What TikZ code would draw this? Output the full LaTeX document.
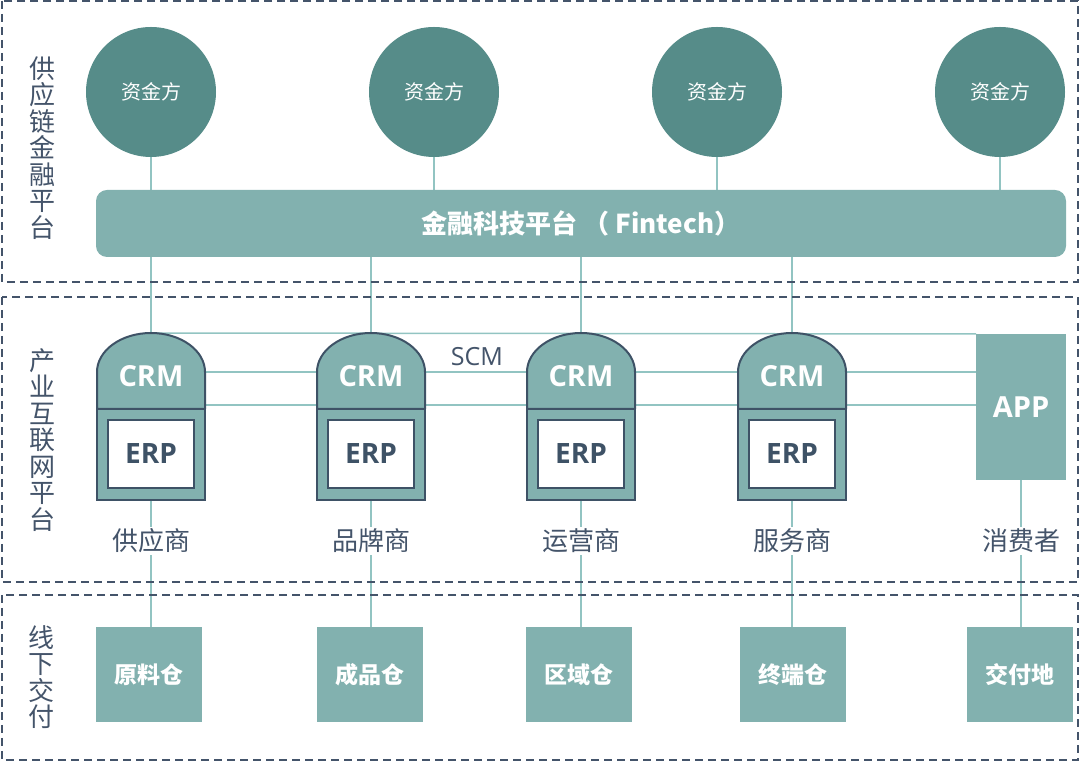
\documentclass[tikz,border=0pt]{standalone}
\usepackage{fontspec}
\usepackage{tikz}
\usetikzlibrary{positioning,backgrounds,calc}
\newfontfamily\cjk{Noto Sans CJK SC}
\newfontfamily\latin{Open Sans}
\definecolor{fundfill}{HTML}{568C89}
\definecolor{tealfill}{HTML}{82B1AF}
\definecolor{outline}{HTML}{3E5266}
\definecolor{linkline}{HTML}{92C4C2}
\definecolor{inktext}{HTML}{44546A}
\tikzset{
  frame/.style={draw=inktext, line width=2pt, dash pattern=on 8pt off 5pt},
  fundcircle/.style={circle, fill=fundfill, minimum size=130pt, inner sep=0pt,
    text=white, font=\cjk\fontsize{20}{24}\selectfont},
  platebar/.style={rounded corners=11pt, fill=tealfill, minimum width=970pt,
    minimum height=67pt, text=white, font=\cjk\bfseries\fontsize{26}{30}\selectfont},
  basebox/.style={draw=outline, line width=2pt, fill=tealfill, minimum width=108pt,
    minimum height=91pt, inner sep=0pt, outer sep=0pt},
  towerline/.style={draw=outline, line width=2pt, line join=round, fill=tealfill},
  erpbox/.style={draw=outline, line width=2pt, fill=white, minimum width=86pt,
    minimum height=68pt, inner sep=0pt, text=outline, font=\latin\bfseries\fontsize{28}{32}\selectfont},
  crmtext/.style={text=white, inner sep=0pt, font=\latin\bfseries\fontsize{29}{32}\selectfont},
  appbox/.style={fill=tealfill, minimum width=90pt, minimum height=146pt, inner sep=0pt,
    outer sep=0pt, text=white, font=\latin\bfseries\fontsize{29}{32}\selectfont},
  depotbox/.style={fill=tealfill, minimum width=106pt, minimum height=95pt, inner sep=0pt,
    outer sep=0pt, text=white, font=\cjk\bfseries\fontsize{23}{26}\selectfont},
  rowlabel/.style={fill=white, inner sep=2pt, text=inktext, font=\cjk\fontsize{26}{30}\selectfont},
  sidelabel/.style={align=center, inner sep=0pt, text=inktext, font=\cjk\fontsize{26}{26.5}\selectfont},
  link/.style={draw=linkline, line width=1.5pt}
}

\begin{document}
\begin{tikzpicture}[x=1pt,y=1pt]
  \useasboundingbox (0,0) rectangle (1080,763);

  % three platform frames
  \draw[frame] (2,762) rectangle (1078,481);
  \draw[frame] (2,466) rectangle (1078,181);
  \draw[frame] (2,168) rectangle (1078,3);
  \node[sidelabel] (side1) at (43,615) {供\\应\\链\\金\\融\\平\\台};
  \node[sidelabel] (side2) at (43,323) {产\\业\\互\\联\\网\\平\\台};
  \node[sidelabel] (side3) at (41,86) {线\\下\\交\\付};

  % fund providers and fintech platform
  \foreach \i/\x in {1/151,2/434,3/717,4/1000}
    \node[fundcircle] (fund\i) at (\x,671) {资金方};
  \node[platebar] (fintech) at (581,539.5) {金融科技平台 （ Fintech）};

  % CRM/ERP towers
  \foreach \i/\x/\role in {1/151/供应商,2/371/品牌商,3/581/运营商,4/792/服务商} {
    \node[basebox] (base\i) at (\x,308.5) {};
    \node[erpbox] (erp\i) at (\x,309) {ERP};
    \draw[towerline] (base\i.north west) -- ++(0,37)
      arc[start angle=180, end angle=0, x radius=54pt, y radius=39pt]
      -- (base\i.north east) -- cycle;
    \coordinate (top\i) at (\x,430);
    \node[crmtext] (crm\i) at (\x,387) {CRM};
    \node[rowlabel] (role\i) at (\x,222) {\role};
  }
  \node[appbox] (app) at (1021,356) {APP};
  \node[rowlabel] (role5) at (1021,222) {消费者};
  \node[text=inktext, font=\latin\fontsize{25}{28}\selectfont] (scm) at (477,406) {SCM};

  % offline delivery points
  \foreach \i/\x/\name in {1/149/原料仓,2/370/成品仓,3/579/区域仓,4/793/终端仓,5/1020/交付地}
    \node[depotbox] (depot\i) at (\x,88.5) {\name};

  % connectors
  \begin{scope}[on background layer]
    \foreach \i in {1,...,4} {
      \draw[link] (fund\i.south) -- (fund\i.south |- fintech.north);
      \draw[link] (top\i |- fintech.south) -- (top\i);
      \draw[link] (base\i.south) -- (base\i.south |- depot\i.north);
    }
    \draw[link] (top1) -- (app.north west);
    \foreach \i/\j in {1/2,2/3,3/4} {
      \draw[link] ([yshift=37pt]base\i.north east) -- ([yshift=37pt]base\j.north west);
      \draw[link] ([yshift=4pt]base\i.north east) -- ([yshift=4pt]base\j.north west);
    }
    \draw[link] ([yshift=37pt]base4.north east) -- ([yshift=37pt]base4.north east -| app.west);
    \draw[link] ([yshift=4pt]base4.north east) -- ([yshift=4pt]base4.north east -| app.west);
    \draw[link] (app.south) -- (app.south |- depot5.north);
  \end{scope}
\end{tikzpicture}
\end{document}
